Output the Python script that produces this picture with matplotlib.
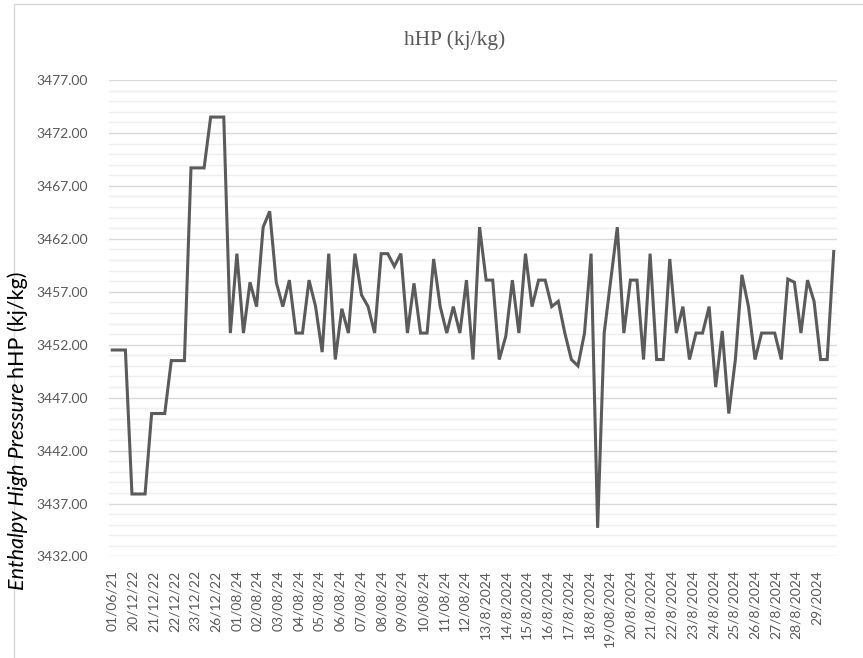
import numpy as np
import matplotlib
matplotlib.use("Agg")
import matplotlib.pyplot as plt
from matplotlib.patches import Rectangle


# hHP readings, one per sample, in the order they were logged
hhp = [
    3451.5, 3451.5, 3451.5, 3437.9, 3437.9, 3437.9, 3445.5, 3445.5, 3445.5,
    3450.5, 3450.5, 3450.5, 3468.7, 3468.7, 3468.7, 3473.5, 3473.5, 3473.5,
    3453.1, 3460.6, 3453.1, 3457.9, 3455.6, 3463.1, 3464.6, 3457.9, 3455.6,
    3458.1, 3453.1, 3453.1, 3458.1, 3455.6, 3451.3, 3460.6, 3450.6, 3455.4,
    3453.1, 3460.6, 3456.7, 3455.6, 3453.1, 3460.6, 3460.6, 3459.4, 3460.6,
    3453.1, 3457.8, 3453.1, 3453.1, 3460.1, 3455.6, 3453.1, 3455.6, 3453.1,
    3458.1, 3450.6, 3463.1, 3458.1, 3458.1, 3450.6, 3452.8, 3458.1, 3453.1,
    3460.6, 3455.6, 3458.1, 3458.1, 3455.6, 3456.1, 3453.1, 3450.6, 3450.0,
    3453.1, 3460.6, 3434.7, 3453.1, 3458.1, 3463.1, 3453.1, 3458.1, 3458.1,
    3450.6, 3460.6, 3450.6, 3450.6, 3460.1, 3453.1, 3455.6, 3450.6, 3453.1,
    3453.1, 3455.6, 3448.0, 3453.3, 3445.5, 3450.6, 3458.6, 3455.6, 3450.6,
    3453.1, 3453.1, 3453.1, 3450.6, 3458.2, 3457.9, 3453.1, 3458.1, 3456.1,
    3450.6, 3450.6, 3460.8,
]

date_labels = [
    "01/06/21", "20/12/22", "21/12/22", "22/12/22", "23/12/22", "26/12/22",
    "01/08/24", "02/08/24", "03/08/24", "04/08/24", "05/08/24", "06/08/24",
    "07/08/24", "08/08/24", "09/08/24", "10/08/24", "11/08/24", "12/08/24",
    "13/8/2024", "14/8/2024", "15/8/2024", "16/8/2024", "17/8/2024",
    "18/8/2024", "19/08/2024", "20/8/2024", "21/8/2024", "22/8/2024",
    "23/8/2024", "24/8/2024", "25/8/2024", "26/8/2024", "27/8/2024",
    "28/8/2024", "29/2024",
]

y_min, y_max = 3432, 3477

GREY_TXT = "#595959"
LINE_COL = "#5b5b5b"

plt.rcParams["font.family"] = ["Lato", "DejaVu Sans"]

fig = plt.figure(figsize=(8.63, 6.58), dpi=100)
ax = fig.add_axes([0.1263, 0.1543, 0.8436, 0.7241])

x = np.arange(len(hhp))
ax.plot(x, hhp, color=LINE_COL, linewidth=2.2, solid_joinstyle="miter")

ax.set_xlim(-0.5, len(hhp) - 0.5)
ax.set_ylim(y_min, y_max)

# major lines every 5, light minor lines every 1
ax.set_yticks(np.arange(y_min, y_max + 1, 5))
ax.set_yticks(np.arange(y_min, y_max + 1, 1), minor=True)
ax.set_yticklabels([f"{v:.2f}" for v in np.arange(y_min, y_max + 1, 5)])
ax.grid(axis="y", which="major", color="#d9d9d9", linewidth=1.0)
ax.grid(axis="y", which="minor", color="#efefef", linewidth=1.0)
ax.set_axisbelow(True)

tick_pos = np.arange(len(date_labels)) * 3.16
ax.set_xticks(tick_pos)
ax.set_xticklabels(date_labels, rotation=90, va="top", ha="center")

ax.tick_params(axis="y", which="both", length=0, pad=15, labelsize=10, labelcolor=GREY_TXT)
ax.tick_params(axis="x", length=0, pad=10, labelsize=10, labelcolor=GREY_TXT)

for side in ["top", "right", "left", "bottom"]:
    ax.spines[side].set_visible(False)

fig.text(455 / 863, 1 - 40 / 658, "hHP (kj/kg)", ha="center", va="center",
         fontsize=15.5, color=GREY_TXT, family=["Liberation Serif", "DejaVu Serif"])

# y label: italic part followed by the plain part
lab_x = 18 / 863
t1 = fig.text(lab_x, 1 - 590 / 658, "Enthalpy High Pressure ", rotation=90,
              ha="center", va="bottom", fontsize=15.5, style="italic", color="black")
fig.canvas.draw()
bb = t1.get_window_extent(renderer=fig.canvas.get_renderer())
top = bb.y1 / fig.bbox.height
fig.text(lab_x, top, "hHP (kj/kg)", rotation=90, ha="center", va="bottom",
         fontsize=15.5, color="black")

# chart frame
fig.patches.append(Rectangle((14 / 863, -0.01), 1.2, 1 - 4 / 658 + 0.01,
                             transform=fig.transFigure, fill=False,
                             edgecolor="#d9d9d9", linewidth=1.0))

fig.savefig("out.png", dpi=100)
